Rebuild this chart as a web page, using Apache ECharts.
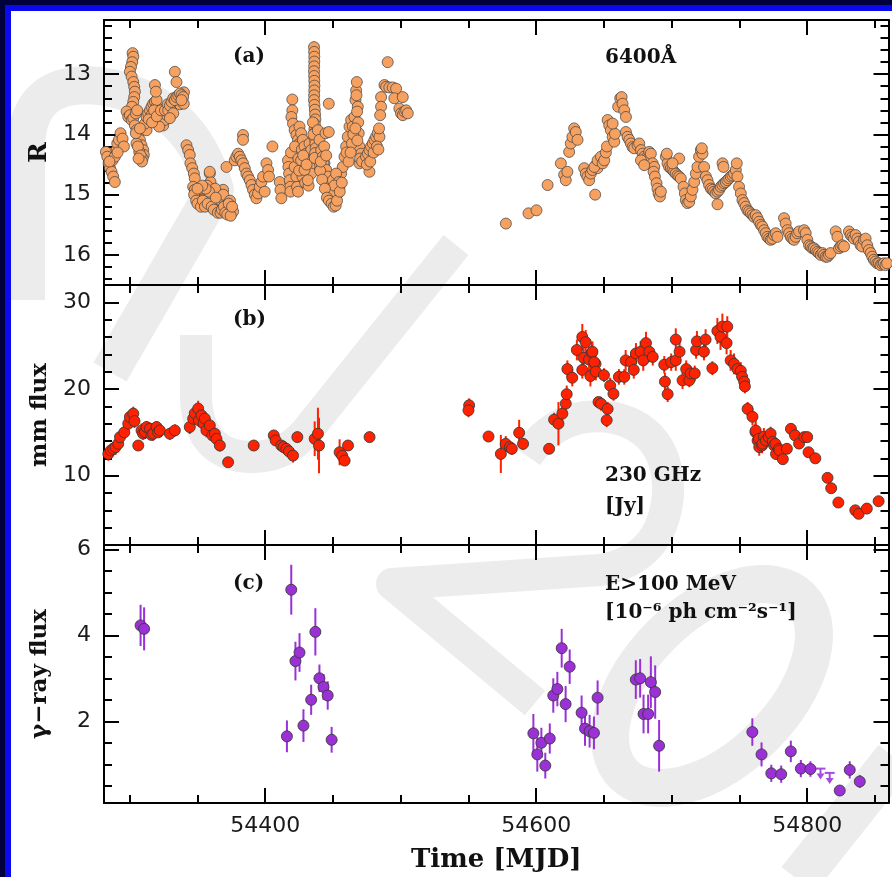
<!DOCTYPE html>
<html>
<head>
<meta charset="utf-8">
<script src="https://cdn.jsdelivr.net/npm/echarts@6/dist/echarts.min.js"></script>
<style>
  html, body { margin: 0; padding: 0; background: #fff; }
  #chart { width: 892px; height: 877px; }
</style>
</head>
<body>
<div id="chart"></div>
<script>
// ---------------------------------------------------------------
// Light curves: optical R magnitude, 230 GHz flux, gamma-ray flux
// ---------------------------------------------------------------

// Time axis (MJD)
const timeRange = [54281, 54860];
const timeMajorTicks = [54400, 54600, 54800];
const timeMinorTicks = [54300, 54350, 54450, 54500, 54550, 54650, 54700, 54750, 54850];

// Panel (a): R magnitude, 6400 A  -- [MJD, R]
const opticalR = [
  [54282.4,14.29],[54283.4,14.37],[54284.4,14.48],[54285.4,14.56],[54286.6,14.62],[54287.8,14.70],[54289.0,14.79],
  [54287.3,14.43],[54289.0,14.37],[54290.3,14.26],[54290.8,14.15],[54292.0,14.09],[54293.2,13.98],[54294.7,14.07],
  [54295.7,14.20],[54285.0,14.45],[54291.0,14.30],
  [54302.1,12.65],[54302.6,12.71],[54301.8,12.80],[54300.9,12.88],[54300.1,12.96],[54301.4,13.04],[54302.6,13.13],
  [54303.3,13.21],[54303.8,13.29],[54303.3,13.38],[54302.6,13.46],[54301.6,13.54],
  [54297.7,13.62],[54298.9,13.71],[54300.1,13.68],[54301.4,13.76],[54302.6,13.73],[54304.5,13.65],[54305.5,13.60],
  [54303.8,13.85],[54305.0,13.93],[54306.3,14.01],[54307.5,14.09],[54308.7,14.18],[54310.0,14.26],[54310.4,14.34],
  [54309.5,14.40],[54307.0,14.29],[54305.0,14.15],[54304.5,13.98],[54312.4,13.93],[54311.2,13.82],[54307.5,13.90],
  [54306.0,14.20],[54308.0,14.35],[54309.0,14.45],[54306.5,14.40],
  [54312.4,13.71],[54313.6,13.65],[54314.9,13.60],[54316.1,13.54],[54317.3,13.49],[54318.6,13.46],[54319.8,13.54],
  [54321.0,13.62],[54322.2,13.71],[54323.5,13.79],[54324.7,13.85],[54325.9,13.76],[54327.2,13.68],[54316.1,13.68],
  [54319.8,13.43],[54321.7,13.87],[54318.6,13.18],[54319.3,13.29],
  [54314.0,13.75],[54316.5,13.80],[54318.0,13.60],[54320.0,13.70],[54323.0,13.60],[54326.0,13.60],[54328.0,13.50],
  [54331.0,13.55],[54335.0,13.45],[54337.0,13.50],[54340.0,13.30],
  [54328.4,13.60],[54329.6,13.52],[54330.8,13.46],[54332.1,13.40],[54333.3,13.43],[54334.5,13.38],[54335.8,13.35],
  [54337.0,13.32],[54338.2,13.35],[54339.4,13.38],[54339.9,13.49],[54338.2,13.43],[54332.1,13.65],[54329.6,13.73],
  [54333.3,12.96],[54334.5,13.13],
  [54341.9,14.18],[54343.1,14.26],[54344.3,14.34],[54344.8,14.48],[54346.1,14.56],[54347.3,14.65],[54348.0,14.73],
  [54346.8,14.87],[54348.0,14.92],[54349.3,14.98],[54350.5,15.03],[54351.7,15.09],[54353.0,15.03],[54354.2,14.98],
  [54355.4,15.06],[54356.6,15.12],[54357.9,15.03],[54359.1,14.65],[54359.6,14.79],[54360.3,14.92],[54361.5,15.09],
  [54362.8,15.14],[54364.0,15.17],[54365.2,15.09],[54366.5,14.98],[54367.7,15.14],[54368.9,14.92],[54370.2,15.09],
  [54371.4,15.17],[54372.6,15.23],[54373.8,15.26],[54375.1,15.31],[54376.3,15.28],[54361.5,14.98],[54359.1,15.09],
  [54364.0,15.26],[54366.5,15.26],[54359.0,14.62],[54371.4,14.54],[54352.0,14.90],[54357.0,14.85],[54363.0,14.90],
  [54369.0,15.00],[54374.0,15.10],
  [54347.5,15.00],[54349.0,15.10],[54350.0,15.15],[54352.5,15.20],[54354.0,15.10],[54355.5,15.20],[54357.5,15.15],
  [54358.5,14.95],[54360.5,15.20],[54362.0,15.25],[54363.5,15.05],[54365.0,15.30],[54367.0,15.30],[54368.0,15.25],
  [54369.5,15.20],[54370.5,15.30],[54372.0,15.33],[54373.0,15.15],[54374.5,15.35],[54375.5,15.20],[54356.0,14.90],
  [54353.5,14.85],[54350.0,14.90],
  [54377.5,14.43],[54378.7,14.37],[54380.0,14.32],[54381.2,14.37],[54382.4,14.43],[54383.6,14.48],[54384.9,14.56],
  [54386.1,14.65],[54387.3,14.70],[54383.6,14.01],[54383.6,14.09],
  [54388.6,14.76],[54389.8,14.84],[54391.0,14.92],[54392.3,15.00],[54393.5,15.06],[54394.7,14.98],[54395.9,14.87],
  [54397.2,14.79],[54398.4,14.70],[54399.6,14.95],[54400.9,14.48],[54402.1,14.59],[54402.8,14.70],[54405.3,14.20],
  [54410.7,14.79],[54411.2,14.92],[54411.9,15.06],
  [54416.8,14.43],[54417.1,14.54],[54417.6,14.65],[54418.1,14.76],[54418.6,14.87],[54418.6,14.95],
  [54420.0,13.42],[54420.0,13.60],[54419.3,13.71],[54420.5,13.82],[54421.7,13.93],[54423.0,14.01],[54424.2,14.09],
  [54425.4,14.15],[54421.7,14.54],[54423.0,14.70],[54423.5,14.87],[54424.2,14.95],
  [54419.0,14.30],[54422.0,14.20],[54424.5,14.40],[54426.0,14.60],[54427.5,14.70],[54429.5,14.80],[54432.0,14.85],
  [54434.0,14.50],[54434.5,14.10],[54427.0,14.25],[54425.0,14.60],
  [54425.3,13.87],[54426.5,13.98],[54427.8,14.09],[54429.0,14.20],[54430.2,14.32],[54431.4,14.43],[54432.7,14.54],
  [54433.9,14.65],[54426.5,14.43],[54429.0,14.59],[54431.4,14.76],[54432.7,14.15],[54433.9,14.26],[54428.0,14.35],
  [54430.5,14.50],
  [54436.0,12.55],[54436.1,12.63],[54436.2,12.71],[54436.2,12.79],[54436.1,12.87],[54436.0,12.95],[54436.1,13.03],
  [54436.2,13.11],[54436.3,13.19],[54436.2,13.27],[54436.1,13.35],[54436.0,13.43],[54436.3,13.51],[54436.6,13.59],
  [54436.8,13.67],[54437.0,13.75],[54436.6,13.83],[54436.3,13.91],[54436.0,13.99],[54436.5,14.07],[54437.0,14.15],
  [54437.2,14.23],[54436.8,14.31],[54436.5,14.39],[54435.5,14.00],[54435.2,13.80],
  [54438.8,13.93],[54440.0,14.09],[54441.3,14.26],[54442.5,14.37],[54443.7,14.48],[54444.5,13.98],
  [54446.9,13.49],[54446.9,13.96],
  [54443.0,14.48],[54445.0,14.59],[54446.2,14.70],[54447.4,14.81],[54448.6,14.92],[54449.9,15.03],[54451.1,15.12],
  [54452.3,15.09],[54453.6,14.98],[54454.8,14.87],[54456.0,14.65],[54457.2,14.54],[54449.9,14.76],[54452.3,14.65],
  [54454.3,14.79],[54448.0,15.00],[54451.0,14.85],
  [54440.5,14.60],[54442.0,14.75],[54444.0,14.90],[54445.5,15.05],[54447.0,15.10],[54449.0,15.15],[54450.5,15.20],
  [54452.0,15.18],[54453.0,15.10],[54455.0,14.95],[54456.5,14.80],[54441.0,14.45],[54443.5,14.20],[54445.0,14.35],
  [54458.5,14.37],[54459.7,14.20],[54460.9,14.04],[54462.2,13.87],[54463.4,13.76],[54464.6,13.87],[54465.8,13.71],
  [54466.6,13.43],[54467.1,13.27],[54467.6,13.13],[54468.3,13.54],[54469.0,13.98],[54469.5,14.20],[54470.8,14.32],
  [54467.3,13.35],[54467.8,13.62],[54468.6,13.80],[54466.0,14.10],[54464.0,14.15],[54469.5,14.48],[54476.9,14.62],
  [54460.0,14.30],[54461.5,14.45],[54463.0,14.30],[54465.0,14.00],[54466.5,13.90],[54468.0,14.10],[54470.0,14.40],
  [54471.5,14.45],
  [54474.4,14.37],[54475.7,14.32],[54476.9,14.26],[54478.1,14.20],[54479.4,14.15],[54480.6,14.09],[54481.8,14.04],
  [54483.0,13.98],[54484.3,14.04],[54475.0,14.50],[54477.5,14.45],[54480.0,14.30],[54482.5,14.20],[54484.0,13.90],
  [54483.5,14.25],
  [54485.5,13.38],[54485.5,13.54],[54484.8,13.68],[54490.4,12.80],
  [54488.0,13.18],[54489.2,13.21],[54491.6,13.22],[54494.1,13.22],[54496.6,13.24],[54495.3,13.40],[54501.5,13.38],
  [54499.0,13.57],[54500.2,13.65],[54501.5,13.68],[54502.7,13.62],[54504.0,13.60],[54505.2,13.65],
  [54577.6,15.48],[54594.3,15.31],[54600.2,15.26],[54608.4,14.84],[54618.2,14.48],
  [54620.6,14.67],[54621.8,14.76],[54623.0,14.62],
  [54624.3,14.29],[54625.5,14.15],[54626.7,14.04],[54628.0,13.90],[54629.2,13.96],[54630.5,14.09],
  [54635.4,14.56],[54636.6,14.65],[54637.8,14.70],[54639.1,14.76],[54640.3,14.65],[54641.5,14.59],[54644.0,14.51],
  [54645.2,14.56],[54643.5,15.00],
  [54642.9,14.54],[54645.3,14.43],[54647.8,14.37],[54649.0,14.48],[54650.2,14.43],[54651.4,14.30],[54652.2,14.20],
  [54652.7,13.76],[54653.9,13.85],[54655.1,13.93],[54656.4,14.04],[54657.6,14.12],[54658.1,13.99],[54656.4,13.82],
  [54660.5,13.54],[54662.0,13.40],[54663.0,13.38],[54663.7,13.49],[54665.0,13.60],[54666.2,13.71],
  [54666.2,13.96],[54667.4,14.04],[54668.7,14.09],[54669.9,14.15],[54671.1,14.21],[54672.3,14.23],[54674.8,14.18],
  [54676.0,14.15],[54677.3,14.26],[54678.5,14.32],[54679.7,14.37],[54680.9,14.43],[54682.2,14.37],[54683.4,14.29],
  [54684.6,14.32],[54685.9,14.48],[54687.1,14.54],[54677.3,14.43],[54679.7,14.51],
  [54686.6,14.62],[54687.6,14.70],[54688.8,14.81],[54689.5,14.90],[54690.3,14.98],[54691.3,15.03],[54692.0,14.95],
  [54695.7,14.37],[54696.9,14.48],[54698.1,14.54],[54699.4,14.56],[54700.6,14.59],[54701.8,14.62],[54703.0,14.65],
  [54704.3,14.68],[54705.5,14.70],[54706.7,14.73],[54696.4,14.32],[54705.5,14.40],[54700.6,14.48],
  [54708.7,14.87],[54709.7,14.98],[54710.4,15.09],[54711.6,15.14],[54712.9,15.12],[54714.1,15.03],[54715.3,14.92],
  [54716.6,14.79],[54717.8,14.65],[54719.0,14.54],[54720.2,14.37],[54721.5,14.26],[54722.7,14.32],[54722.2,14.23],
  [54723.9,14.54],[54725.2,14.70],
  [54726.4,14.76],[54727.6,14.84],[54728.9,14.90],[54730.1,14.92],[54731.3,14.95],[54732.5,14.98],[54733.8,14.95],
  [54735.0,14.92],[54736.2,14.87],[54737.4,14.84],[54738.7,14.81],[54733.8,15.16],[54737.5,14.48],[54738.2,14.54],
  [54739.9,14.79],[54741.1,14.76],[54742.4,14.73],[54743.6,14.70],[54744.8,14.68],[54746.0,14.65],[54747.3,14.59],
  [54748.0,14.48],[54748.5,14.70],
  [54749.7,14.87],[54751.0,14.98],[54752.2,15.09],[54753.4,15.14],[54754.6,15.20],[54755.9,15.26],[54757.1,15.28],
  [54758.3,15.31],[54759.6,15.34],[54760.8,15.37],[54762.0,15.34],[54763.3,15.39],
  [54764.5,15.45],[54765.7,15.50],[54766.9,15.53],[54768.2,15.59],[54769.4,15.64],[54770.6,15.70],[54771.9,15.73],
  [54773.1,15.75],[54774.3,15.73],[54775.5,15.67],[54776.8,15.64],[54778.0,15.70],
  [54782.9,15.39],[54784.1,15.48],[54785.4,15.59],[54786.6,15.64],[54787.8,15.70],[54789.0,15.73],[54790.3,15.75],
  [54791.5,15.70],[54792.7,15.64],[54794.0,15.61],
  [54797.7,15.59],[54798.9,15.64],[54800.1,15.75],[54801.4,15.84],[54802.6,15.86],[54803.8,15.89],[54805.0,15.89],
  [54806.3,15.92],[54807.5,15.95],[54808.7,15.97],[54810.0,16.00],[54811.2,15.97],[54812.4,16.00],[54813.6,16.03],
  [54814.9,16.03],[54816.1,16.00],[54817.3,15.97],
  [54821.0,15.61],[54822.3,15.70],[54823.5,15.89],[54824.7,15.86],[54826.0,15.84],[54827.2,15.86],
  [54830.8,15.61],[54832.0,15.67],[54833.3,15.70],[54834.5,15.73],[54835.7,15.67],[54837.0,15.73],[54838.2,15.78],
  [54839.4,15.84],[54840.6,15.86],[54841.9,15.75],[54843.1,15.73],[54844.3,15.84],
  [54845.5,15.92],[54846.8,15.97],[54848.0,16.03],[54849.2,16.08],[54850.4,16.11],[54851.7,16.14],[54852.9,16.14],
  [54854.1,16.17],[54855.4,16.15],[54856.6,16.14],[54857.8,16.17],[54859.0,16.14],[54860.2,16.14]
];
const rMajorTicks = [13, 14, 15, 16];
const rMinorTicks = [12.2, 12.4, 12.6, 12.8, 13.2, 13.4, 13.6, 13.8, 14.2, 14.4, 14.6, 14.8,
                     15.2, 15.4, 15.6, 15.8, 16.2, 16.4];

// Panel (b): 230 GHz flux density [Jy] -- [MJD, flux, error]
const mmFlux = [
  [54284.2,12.51,0.8],[54286.0,12.90,0.8],[54287.8,13.10,0.8],[54289.5,13.30,0.9],[54291.5,13.68,1.0],[54292.8,14.45,0.8],
  [54296.0,15.00,0.8],[54298.9,16.00,0.8],[54300.1,16.77,0.8],[54302.6,17.16,0.8],[54303.5,16.30,0.8],[54306.3,13.48,0.6],
  [54308.7,15.22,0.8],[54309.8,14.85,0.7],[54311.2,15.03,0.8],[54312.4,15.61,0.7],[54314.9,15.41,0.7],[54316.0,14.70,0.6],
  [54317.3,14.84,0.8],[54319.8,15.61,0.7],[54321.0,15.00,0.6],[54322.2,15.22,0.7],[54329.6,14.84,0.7],[54333.3,15.22,0.7],
  [54344.3,15.61,0.8],[54346.8,16.58,0.8],[54348.0,17.20,0.8],[54350.5,17.74,0.9],[54351.0,16.40,0.8],[54353.0,16.96,0.8],
  [54354.5,16.00,0.8],[54355.4,16.58,0.8],[54356.6,15.22,0.8],[54359.1,15.80,0.8],[54361.0,14.65,0.7],[54362.8,14.84,0.7],
  [54364.0,14.25,0.7],[54366.5,13.48,0.7],[54372.6,11.55,0.5],[54391.5,13.48,0.6],[54406.3,14.64,0.6],[54407.7,14.06,0.6],
  [54411.9,13.48,0.6],[54413.5,13.30,0.6],[54415.6,13.10,0.6],[54417.5,12.80,0.6],[54420.5,12.32,0.8],[54423.7,14.45,0.6],
  [54436.5,14.26,2.0],[54438.9,14.84,3.0],[54439.7,13.48,3.2],[54454.9,12.70,1.5],[54456.8,12.30,0.6],[54458.6,11.74,0.6],
  [54461.1,13.48,0.6],[54477.0,14.45,0.6],
  [54550.5,18.12,0.8],[54550.0,17.54,0.8],[54564.8,14.52,0.6],[54573.9,12.51,2.2],[54577.5,13.67,0.9],[54580.5,13.29,0.7],
  [54582.0,13.10,0.7],[54587.4,14.95,1.5],[54590.3,13.67,0.7],[54609.5,13.10,0.6],[54613.2,16.46,0.8],[54616.4,16.00,2.5],
  [54619.3,17.16,1.2],[54621.8,18.32,1.2],[54622.5,19.40,1.0],[54623.0,22.30,1.0],[54626.6,21.30,1.0],[54630.0,24.50,1.2],
  [54634.0,26.00,1.5],[54634.0,22.20,1.0],[54636.5,25.40,1.4],[54635.0,23.60,1.2],[54639.0,23.40,1.5],[54641.0,24.20,1.2],
  [54640.0,21.50,1.2],[54643.8,22.90,1.0],[54646.0,18.50,0.6],[54641.5,24.30,1.2],[54642.8,23.10,1.2],[54644.0,22.00,1.0],
  [54650.0,21.60,0.8],[54647.8,18.30,0.8],[54652.7,17.70,0.8],[54652.0,16.40,0.8],[54654.6,20.40,0.9],[54657.0,19.45,0.8],
  [54661.0,21.40,0.9],[54665.0,21.40,0.9],[54666.0,23.30,1.2],[54670.0,23.10,1.2],[54672.0,22.20,1.0],[54673.6,24.10,1.2],
  [54677.0,24.30,1.2],[54679.0,23.30,1.2],[54681.0,25.30,1.3],[54683.5,24.30,1.2],[54686.0,23.70,1.0],[54694.5,22.80,1.0],
  [54695.0,20.85,1.0],[54697.0,19.40,0.9],[54699.6,23.10,1.0],[54703.0,23.30,1.2],[54703.0,25.70,1.3],[54705.8,24.30,1.4],
  [54708.0,21.00,1.0],[54710.7,22.30,1.0],[54713.0,21.00,0.8],[54714.0,21.80,0.8],[54717.0,21.80,0.9],[54718.0,24.50,1.0],
  [54718.6,25.50,1.2],[54723.8,24.30,1.0],[54725.0,25.70,1.2],[54730.0,22.40,0.8],[54733.7,26.70,1.5],[54736.0,26.00,1.5],
  [54737.4,27.20,1.5],[54740.5,25.30,1.3],[54741.0,27.20,1.2],[54743.5,23.30,1.2],[54746.0,22.90,1.2],[54748.5,22.30,1.0],
  [54751.0,22.10,1.0],[54752.0,21.40,0.8],[54753.5,20.85,0.8],[54754.0,20.30,0.8],[54756.0,17.70,0.8],[54759.6,16.80,1.0],
  [54761.8,15.03,1.0],[54762.0,15.20,1.2],[54763.4,14.05,1.0],[54764.3,14.26,1.0],[54764.6,13.30,1.0],[54766.7,13.48,0.9],
  [54767.0,13.70,0.8],[54768.0,14.50,1.0],[54769.5,14.05,0.8],[54771.6,14.45,0.8],[54773.0,14.85,0.8],[54774.5,13.90,0.8],
  [54775.5,13.50,0.8],[54776.5,13.67,0.8],[54777.0,12.50,0.6],[54779.0,13.10,0.6],[54779.5,12.90,0.6],[54782.0,11.90,0.5],
  [54785.0,13.10,0.6],[54788.0,15.40,0.6],[54791.0,14.65,0.6],[54794.0,13.70,0.6],[54797.8,14.45,0.6],[54800.0,14.45,0.6],
  [54801.0,12.70,0.5],[54806.0,12.00,0.4],[54815.0,9.75,0.3],[54817.7,8.55,0.3],[54823.0,6.90,0.3],[54835.5,6.00,0.3],
  [54838.0,5.60,0.3],[54844.0,6.20,0.3],[54852.7,7.05,0.3]
];
const mmMajorTicks = [10, 20, 30];
const mmMinorTicks = [4, 6, 8, 12, 14, 16, 18, 22, 24, 26, 28, 32];

// Panel (c): E>100 MeV flux [1e-6 ph cm^-2 s^-1] -- [MJD, flux, error]
const gammaFlux = [
  [54308.0,4.23,0.48],[54310.6,4.15,0.50],[54416.0,1.65,0.37],[54419.2,5.06,0.58],[54422.3,3.40,0.45],[54425.3,3.60,0.45],
  [54428.2,1.90,0.38],[54433.9,2.50,0.35],[54437.0,4.08,0.55],[54440.0,3.00,0.32],[54443.0,2.80,0.30],[54446.1,2.60,0.33],
  [54449.0,1.57,0.30],
  [54597.9,1.72,0.45],[54600.8,1.23,0.40],[54603.8,1.50,0.35],[54606.7,0.97,0.30],[54610.0,1.60,0.35],[54612.6,2.60,0.40],
  [54615.6,2.75,0.40],[54618.8,3.70,0.45],[54621.7,2.40,0.42],[54624.7,3.27,0.40],[54633.5,2.20,0.40],[54636.0,1.83,0.40],
  [54639.4,1.77,0.38],[54642.6,1.73,0.38],[54645.3,2.55,0.40],
  [54673.5,2.97,0.45],[54676.7,3.00,0.45],[54679.2,2.17,0.45],[54682.6,2.17,0.45],[54684.6,2.91,0.60],[54687.8,2.68,0.62],
  [54690.7,1.43,0.60],
  [54759.5,1.75,0.32],[54766.3,1.23,0.28],[54773.5,0.79,0.20],[54780.8,0.77,0.20],[54787.9,1.30,0.25],[54795.3,0.90,0.20],
  [54802.4,0.89,0.18],[54824.0,0.39,0.10],[54831.4,0.87,0.20],[54838.8,0.60,0.15]
];
// upper limits -- [MJD, flux limit]
const gammaUpperLimits = [[54809.8, 0.90], [54816.6, 0.80]];
const gammaMajorTicks = [2, 4, 6];
const gammaMinorTicks = [0.5, 1, 1.5, 2.5, 3, 3.5, 4.5, 5, 5.5];

// ---------------------------------------------------------------
const ORANGE = '#F7A160';
const RED = '#FF2200';
const PURPLE = '#9A30D6';
const SERIF_BOLD = '"DejaVu Serif", "Liberation Serif", serif';
const TICK_FONT = '"DejaVu Sans", "Liberation Sans", sans-serif';

const panels = [
  { top: 20,  height: 265, min: 12.1, max: 16.5, inverse: true,  major: rMajorTicks,     minor: rMinorTicks,     name: 'R',           nameSize: 25 },
  { top: 285, height: 260, min: 2,    max: 32,   inverse: false, major: mmMajorTicks,    minor: mmMinorTicks,    name: 'mm flux',     nameSize: 23 },
  { top: 545, height: 258, min: 0.1,  max: 6.1,  inverse: false, major: gammaMajorTicks, minor: gammaMinorTicks, name: 'γ−ray flux',  nameSize: 23 }
];

const axisLineStyle = { color: '#000', width: 2 };
const tickLineStyle = { color: '#000', width: 2 };
const plainNumber = v => String(v);

const grids = [], xAxes = [], yAxes = [];
panels.forEach((p, i) => {
  const rect = { left: 104, width: 784.5, top: p.top, height: p.height };
  grids.push(Object.assign({}, rect), Object.assign({}, rect));
  const gMajor = 2 * i, gMinor = 2 * i + 1;
  const last = i === panels.length - 1;

  // x axes: major bottom/top, then minor bottom/top
  ['bottom', 'top'].forEach(pos => {
    xAxes.push({
      gridIndex: gMajor, type: 'value', position: pos, min: timeRange[0], max: timeRange[1],
      axisLine: { show: true, onZero: false, lineStyle: axisLineStyle },
      axisTick: { show: true, inside: true, length: 15, lineStyle: tickLineStyle, customValues: timeMajorTicks },
      axisLabel: { show: last && pos === 'bottom', customValues: timeMajorTicks, fontSize: 22,
                   fontFamily: TICK_FONT, color: '#1a1a1a', margin: 12, formatter: plainNumber },
      splitLine: { show: false },
      name: last && pos === 'bottom' ? 'Time [MJD]' : '',
      nameLocation: 'middle', nameGap: 44,
      nameTextStyle: { fontFamily: SERIF_BOLD, fontWeight: 'bold', fontSize: 26, color: '#111' }
    });
  });
  ['bottom', 'top'].forEach(pos => {
    xAxes.push({
      gridIndex: gMinor, type: 'value', position: pos, min: timeRange[0], max: timeRange[1],
      axisLine: { show: false, onZero: false },
      axisTick: { show: true, inside: true, length: 8, lineStyle: tickLineStyle, customValues: timeMinorTicks },
      axisLabel: { show: false }, splitLine: { show: false }
    });
  });

  // y axes: major left/right, then minor left/right
  ['left', 'right'].forEach(pos => {
    yAxes.push({
      gridIndex: gMajor, type: 'value', position: pos, min: p.min, max: p.max, inverse: p.inverse,
      axisLine: { show: true, onZero: false, lineStyle: axisLineStyle },
      axisTick: { show: true, inside: true, length: 15, lineStyle: tickLineStyle, customValues: p.major },
      axisLabel: { show: pos === 'left', customValues: p.major, fontSize: 22, fontFamily: TICK_FONT,
                   color: '#1a1a1a', margin: 13, formatter: plainNumber },
      splitLine: { show: false },
      name: pos === 'left' ? p.name : '',
      nameLocation: 'middle', nameGap: 52, nameRotate: 90,
      nameTextStyle: { fontFamily: SERIF_BOLD, fontWeight: 'bold', fontSize: p.nameSize, color: '#111' }
    });
  });
  ['left', 'right'].forEach(pos => {
    yAxes.push({
      gridIndex: gMinor, type: 'value', position: pos, min: p.min, max: p.max, inverse: p.inverse,
      axisLine: { show: false, onZero: false },
      axisTick: { show: true, inside: true, length: 8, lineStyle: tickLineStyle, customValues: p.minor },
      axisLabel: { show: false }, splitLine: { show: false }
    });
  });
});

// vertical error bars drawn through the panel's axes
function errorBars(data, axisIndex, color) {
  return {
    type: 'custom', xAxisIndex: axisIndex, yAxisIndex: axisIndex, data: data,
    encode: { x: 0, y: 1 }, silent: true, z: 2, clip: true,
    renderItem: function (params, api) {
      const x = api.value(0), y = api.value(1), e = api.value(2);
      const lo = api.coord([x, y - e]), hi = api.coord([x, y + e]);
      return { type: 'line', shape: { x1: lo[0], y1: lo[1], x2: hi[0], y2: hi[1] },
               style: { stroke: color, lineWidth: 2 } };
    }
  };
}

function points(data, axisIndex, color, size, border) {
  return {
    type: 'scatter', xAxisIndex: axisIndex, yAxisIndex: axisIndex, data: data,
    encode: { x: 0, y: 1 }, symbol: 'circle', symbolSize: size, z: 3, silent: true,
    itemStyle: { color: color, borderColor: border, borderWidth: 1, opacity: 1 }
  };
}

// downward arrows for the flux upper limits
const upperLimitSeries = {
  type: 'custom', xAxisIndex: 8, yAxisIndex: 8, data: gammaUpperLimits,
  encode: { x: 0, y: 1 }, silent: true, z: 3,
  renderItem: function (params, api) {
    const p = api.coord([api.value(0), api.value(1)]);
    const c = '#A64BE0';
    return {
      type: 'group',
      children: [
        { type: 'line', shape: { x1: p[0] - 5, y1: p[1], x2: p[0] + 5, y2: p[1] }, style: { stroke: c, lineWidth: 2 } },
        { type: 'line', shape: { x1: p[0], y1: p[1], x2: p[0], y2: p[1] + 6 }, style: { stroke: c, lineWidth: 2 } },
        { type: 'polygon', shape: { points: [[p[0] - 4, p[1] + 5], [p[0] + 4, p[1] + 5], [p[0], p[1] + 11]] },
          style: { fill: c } }
      ]
    };
  }
};

// faint background logo strokes (pixel paths, drawn behind everything)
const wmPaths = [
  { d: 'M 26 300 L 26 150 Q 26 78 100 86 Q 190 100 215 190 L 110 372', w: 38 },
  { d: 'M 196 335 L 196 400 Q 200 457 252 457 Q 285 457 306 432 L 456 245', w: 32 },
  { d: 'M 527 456 Q 560 408 615 418 Q 670 432 668 495 Q 662 560 600 570 L 392 584 L 535 703', w: 32 },
  { d: 'M 623.6 774.4 A 125 72 -45 1 0 800.4 597.6 A 125 72 -45 1 0 623.6 774.4 Z', w: 38 },
  { d: 'M 798 880 L 895 758', w: 42 }
];
const watermarkSeries = {
  type: 'custom', coordinateSystem: 'none', data: [[0]], silent: true, z: -5,
  renderItem: function () {
    return {
      type: 'group',
      children: wmPaths.map(p => ({
        type: 'path', shape: { pathData: p.d },
        style: { stroke: '#ececec', fill: 'none', lineWidth: p.w, lineCap: 'butt', lineJoin: 'round' }
      }))
    };
  }
};

// panel annotations
const noteFont = 'bold 20px ' + SERIF_BOLD;
function note(text, x, y) {
  return { type: 'text', z: 50, silent: true, x: x, y: y,
           style: { text: text, font: noteFont, fill: '#111', textVerticalAlign: 'middle' } };
}
const notes = [
  note('(a)', 233, 57), note('6400Å', 605, 58),
  note('(b)', 233, 320), note('230 GHz', 605, 476), note('[Jy]', 605, 507),
  note('(c)', 233, 584), note('E>100 MeV', 605, 585), note('[10⁻⁶ ph cm⁻²s⁻¹]', 605, 613)
];

// page frame
const frame = [
  { type: 'rect', z: 100, silent: true, shape: { x: 0, y: 0, width: 892, height: 5 }, style: { fill: '#00003c' } },
  { type: 'rect', z: 100, silent: true, shape: { x: 0, y: 0, width: 5, height: 877 }, style: { fill: '#00003c' } },
  { type: 'rect', z: 100, silent: true, shape: { x: 5, y: 5, width: 887, height: 6 }, style: { fill: '#0a0af0' } },
  { type: 'rect', z: 100, silent: true, shape: { x: 5, y: 5, width: 6, height: 872 }, style: { fill: '#0a0af0' } }
];

const chart = echarts.init(document.getElementById('chart'), null, { renderer: 'canvas' });
chart.setOption({
  backgroundColor: '#ffffff',
  animation: false,
  grid: grids,
  xAxis: xAxes,
  yAxis: yAxes,
  graphic: { elements: notes.concat(frame) },
  series: [
    watermarkSeries,
    points(opticalR, 0, ORANGE, 11, 'rgba(70,70,70,0.75)'),
    errorBars(mmFlux, 4, RED),
    points(mmFlux, 4, RED, 11, 'rgba(55,55,55,0.85)'),
    errorBars(gammaFlux, 8, PURPLE),
    points(gammaFlux, 8, PURPLE, 11, 'rgba(55,55,55,0.85)'),
    upperLimitSeries
  ]
});
</script>
</body>
</html>
